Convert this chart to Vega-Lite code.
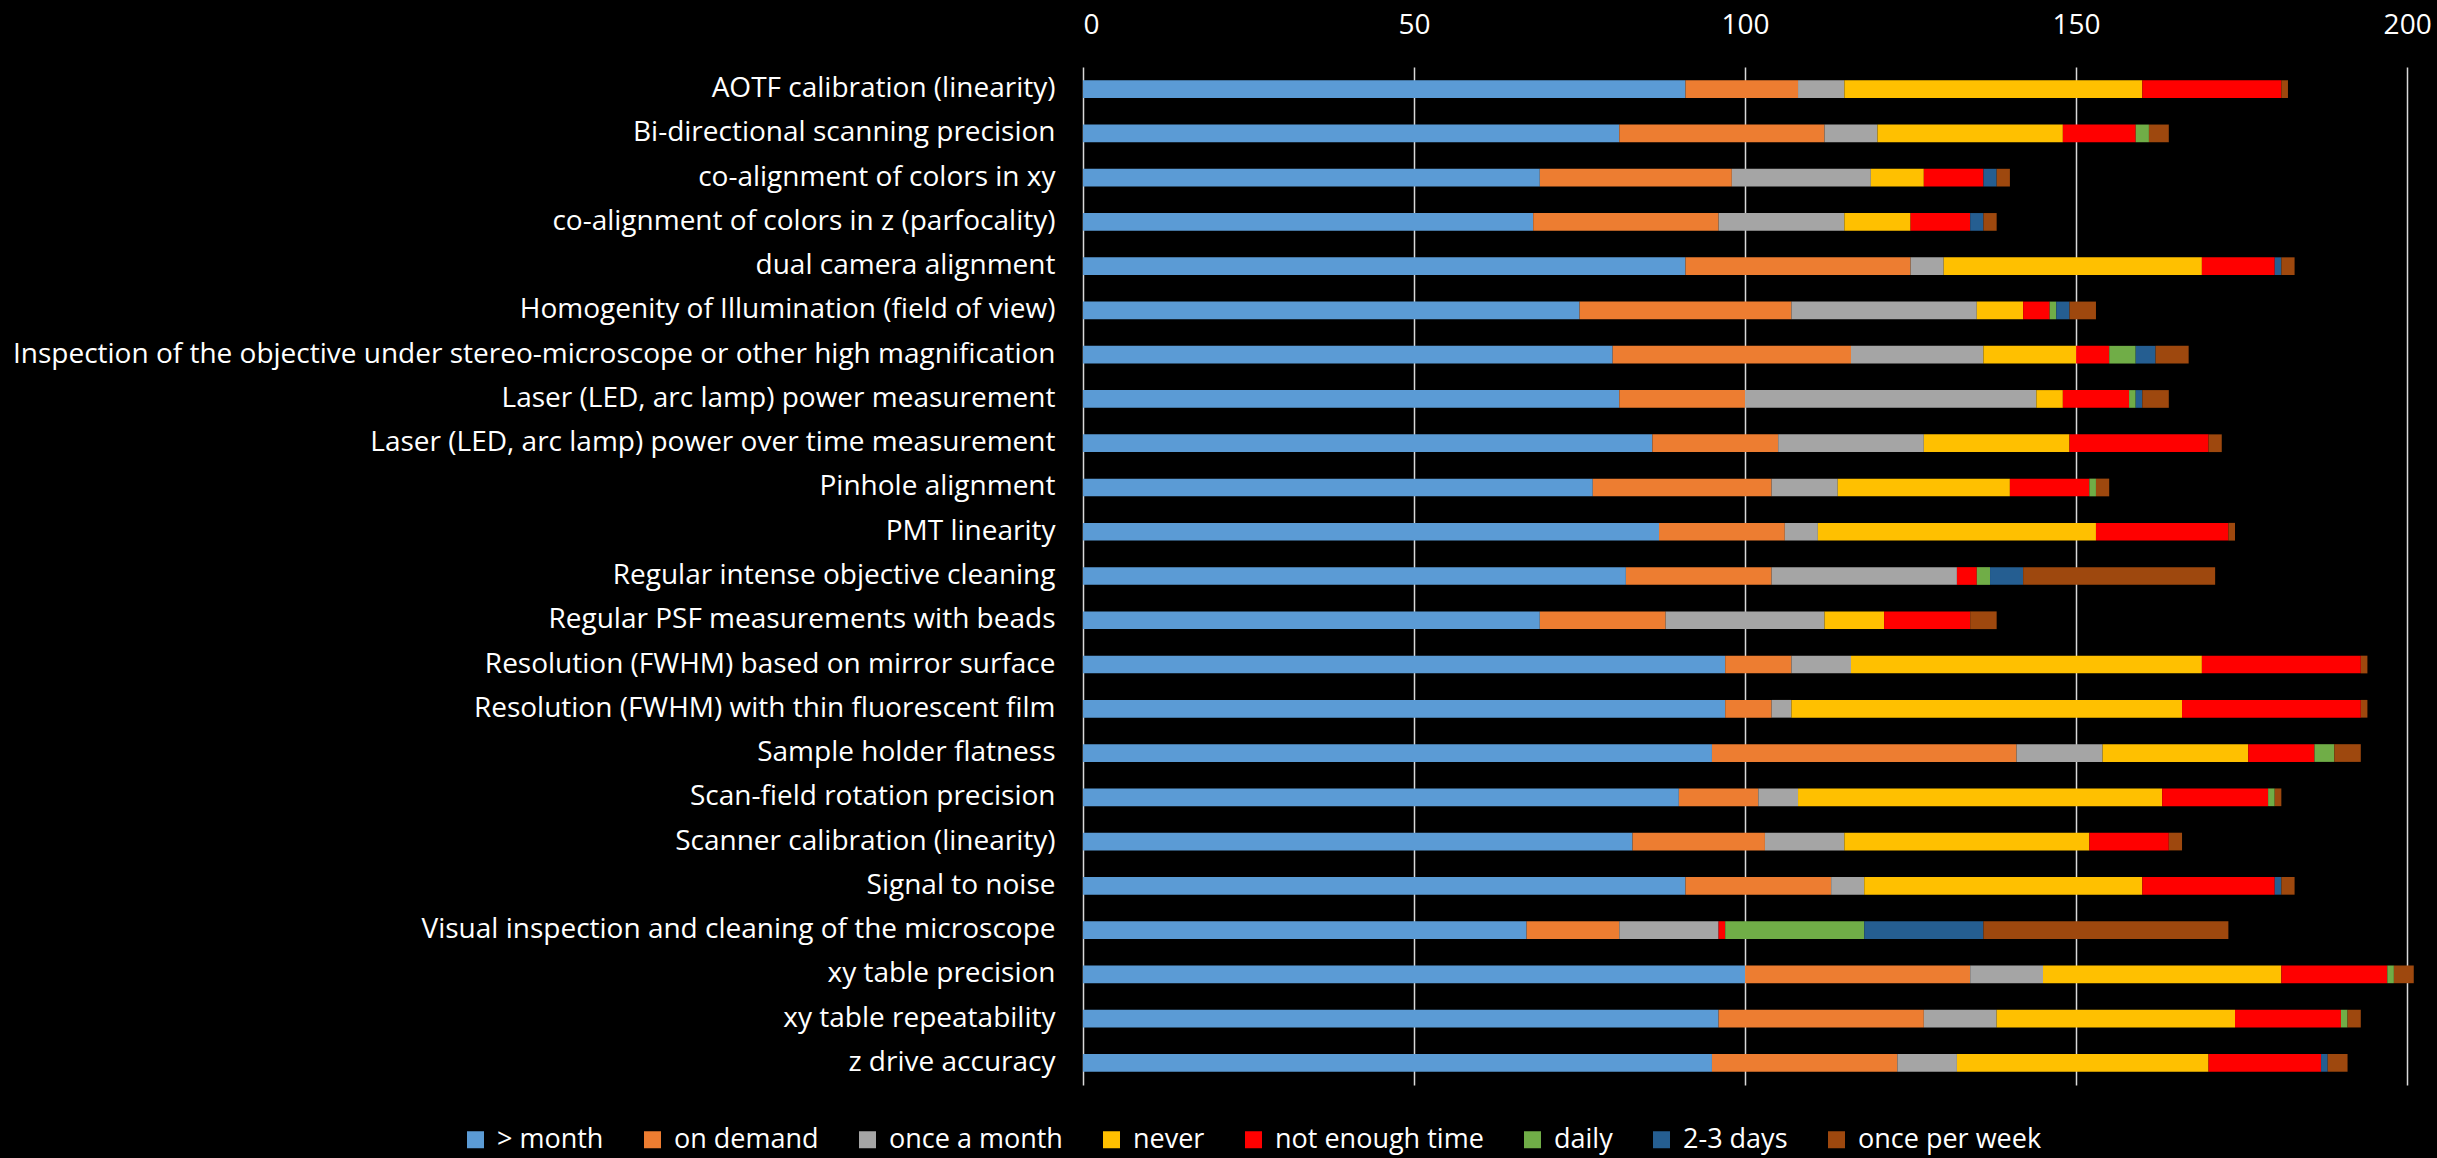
{
  "$schema": "https://vega.github.io/schema/vega-lite/v6.json",
  "autosize": "none",
  "width": 1344,
  "height": 1018,
  "padding": {"left": 1083, "top": 67, "right": 10, "bottom": 73},
  "background": "#000000",
  "config": {
    "view": {"stroke": null},
    "font": "Open Sans"
  },
  "data": {
    "values": [
      {"task": "AOTF calibration (linearity)", "> month": 91, "on demand": 17, "once a month": 7, "never": 45, "not enough time": 21, "daily": 0, "2-3 days": 0, "once per week": 1},
      {"task": "Bi-directional scanning precision", "> month": 81, "on demand": 31, "once a month": 8, "never": 28, "not enough time": 11, "daily": 2, "2-3 days": 0, "once per week": 3},
      {"task": "co-alignment of colors in xy", "> month": 69, "on demand": 29, "once a month": 21, "never": 8, "not enough time": 9, "daily": 0, "2-3 days": 2, "once per week": 2},
      {"task": "co-alignment of colors in z (parfocality)", "> month": 68, "on demand": 28, "once a month": 19, "never": 10, "not enough time": 9, "daily": 0, "2-3 days": 2, "once per week": 2},
      {"task": "dual camera alignment", "> month": 91, "on demand": 34, "once a month": 5, "never": 39, "not enough time": 11, "daily": 0, "2-3 days": 1, "once per week": 2},
      {"task": "Homogenity of Illumination (field of view)", "> month": 75, "on demand": 32, "once a month": 28, "never": 7, "not enough time": 4, "daily": 1, "2-3 days": 2, "once per week": 4},
      {"task": "Inspection of the objective under stereo-microscope or other high magnification", "> month": 80, "on demand": 36, "once a month": 20, "never": 14, "not enough time": 5, "daily": 4, "2-3 days": 3, "once per week": 5},
      {"task": "Laser (LED, arc lamp) power measurement", "> month": 81, "on demand": 19, "once a month": 44, "never": 4, "not enough time": 10, "daily": 1, "2-3 days": 1, "once per week": 4},
      {"task": "Laser (LED, arc lamp) power over time measurement", "> month": 86, "on demand": 19, "once a month": 22, "never": 22, "not enough time": 21, "daily": 0, "2-3 days": 0, "once per week": 2},
      {"task": "Pinhole alignment", "> month": 77, "on demand": 27, "once a month": 10, "never": 26, "not enough time": 12, "daily": 1, "2-3 days": 0, "once per week": 2},
      {"task": "PMT linearity", "> month": 87, "on demand": 19, "once a month": 5, "never": 42, "not enough time": 20, "daily": 0, "2-3 days": 0, "once per week": 1},
      {"task": "Regular intense objective cleaning", "> month": 82, "on demand": 22, "once a month": 28, "never": 0, "not enough time": 3, "daily": 2, "2-3 days": 5, "once per week": 29},
      {"task": "Regular PSF measurements with beads", "> month": 69, "on demand": 19, "once a month": 24, "never": 9, "not enough time": 13, "daily": 0, "2-3 days": 0, "once per week": 4},
      {"task": "Resolution (FWHM) based on mirror surface", "> month": 97, "on demand": 10, "once a month": 9, "never": 53, "not enough time": 24, "daily": 0, "2-3 days": 0, "once per week": 1},
      {"task": "Resolution (FWHM) with thin fluorescent film", "> month": 97, "on demand": 7, "once a month": 3, "never": 59, "not enough time": 27, "daily": 0, "2-3 days": 0, "once per week": 1},
      {"task": "Sample holder flatness", "> month": 95, "on demand": 46, "once a month": 13, "never": 22, "not enough time": 10, "daily": 3, "2-3 days": 0, "once per week": 4},
      {"task": "Scan-field rotation precision", "> month": 90, "on demand": 12, "once a month": 6, "never": 55, "not enough time": 16, "daily": 1, "2-3 days": 0, "once per week": 1},
      {"task": "Scanner calibration (linearity)", "> month": 83, "on demand": 20, "once a month": 12, "never": 37, "not enough time": 12, "daily": 0, "2-3 days": 0, "once per week": 2},
      {"task": "Signal to noise", "> month": 91, "on demand": 22, "once a month": 5, "never": 42, "not enough time": 20, "daily": 0, "2-3 days": 1, "once per week": 2},
      {"task": "Visual inspection and cleaning of the microscope", "> month": 67, "on demand": 14, "once a month": 15, "never": 0, "not enough time": 1, "daily": 21, "2-3 days": 18, "once per week": 37},
      {"task": "xy table precision", "> month": 100, "on demand": 34, "once a month": 11, "never": 36, "not enough time": 16, "daily": 1, "2-3 days": 0, "once per week": 3},
      {"task": "xy table repeatability", "> month": 96, "on demand": 31, "once a month": 11, "never": 36, "not enough time": 16, "daily": 1, "2-3 days": 0, "once per week": 2},
      {"task": "z drive accuracy", "> month": 95, "on demand": 28, "once a month": 9, "never": 38, "not enough time": 17, "daily": 0, "2-3 days": 1, "once per week": 3}
    ]
  },
  "transform": [
    {"fold": ["> month", "on demand", "once a month", "never", "not enough time", "daily", "2-3 days", "once per week"], "as": ["freq", "n"]},
    {"calculate": "indexof(['> month', 'on demand', 'once a month', 'never', 'not enough time', 'daily', '2-3 days', 'once per week'], datum.freq)", "as": "k"}
  ],
  "mark": {"type": "bar"},
  "encoding": {
    "y": {
      "field": "task", "type": "nominal", "sort": null,
      "scale": {"paddingInner": 0.6, "paddingOuter": 0.3},
      "axis": {"title": null, "ticks": false, "domain": false, "labelColor": "#ffffff", "labelFontSize": 28, "labelPadding": 28, "labelLimit": 1200, "labelFont": "Open Sans"}
    },
    "x": {
      "field": "n", "type": "quantitative", "stack": "zero",
      "scale": {"domain": [0, 203], "nice": false},
      "axis": {"orient": "top", "title": null, "values": [0, 50, 100, 150, 200], "ticks": false, "domain": false, "grid": true, "gridColor": "#d9d9d9", "gridWidth": 1.5, "labelColor": "#ffffff", "labelFontSize": 28, "labelPadding": 28, "labelFont": "Open Sans"}
    },
    "color": {
      "field": "freq", "type": "nominal",
      "scale": {
        "domain": ["> month", "on demand", "once a month", "never", "not enough time", "daily", "2-3 days", "once per week"],
        "range": ["#5B9BD5", "#ED7D31", "#A5A5A5", "#FFC000", "#FF0000", "#70AD47", "#255E91", "#9E480E"]
      },
      "legend": {
        "title": null, "orient": "none", "legendX": -621, "legendY": 1059,
        "direction": "horizontal", "columns": 8, "columnPadding": 35,
        "symbolType": "square", "symbolSize": 289, "symbolStrokeWidth": 0,
        "labelColor": "#ffffff", "labelFontSize": 27, "labelOffset": 8, "labelLimit": 0, "labelFont": "Open Sans"
      }
    },
    "order": {"field": "k", "type": "quantitative"}
  }
}
